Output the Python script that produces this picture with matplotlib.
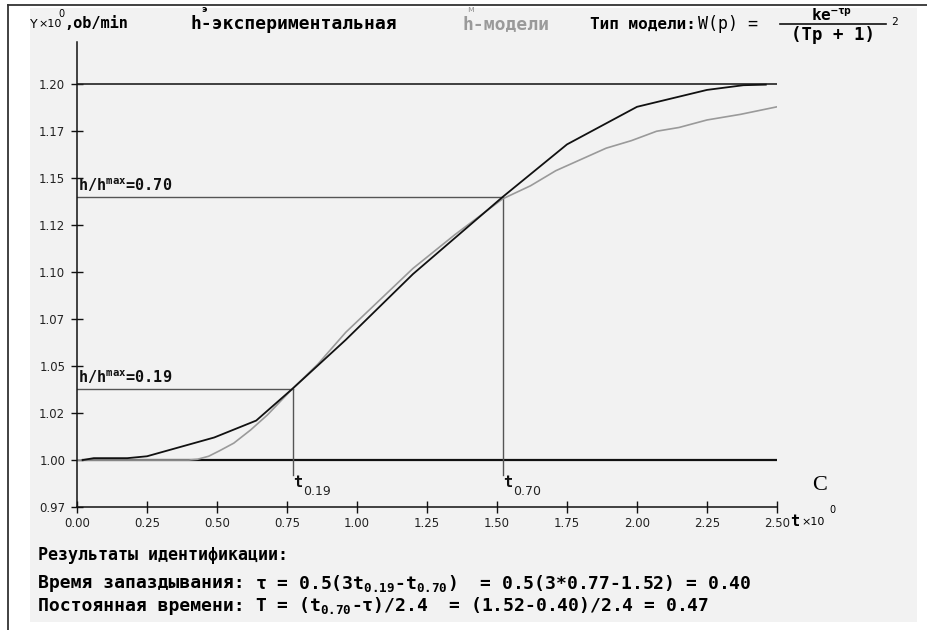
import matplotlib
matplotlib.use('Agg')
import matplotlib.pyplot as plt
from matplotlib.lines import Line2D
from matplotlib.patches import Rectangle

plt.rcParams['mathtext.default'] = 'regular'

# ---------------- data ----------------
t_exp = [0.02, 0.06, 0.18, 0.25, 0.49, 0.64, 0.77, 0.96, 1.20, 1.52, 1.75, 2.00, 2.25, 2.38, 2.46]
h_exp = [1.000, 1.001, 1.001, 1.002, 1.012, 1.021, 1.038, 1.064, 1.099, 1.140, 1.168, 1.188, 1.197, 1.1995, 1.1998]

t_mod = [0.00, 0.40, 0.43, 0.47, 0.51, 0.56, 0.62, 0.68, 0.77, 0.86, 0.96, 1.08, 1.20, 1.35,
         1.52, 1.62, 1.71, 1.89, 1.98, 2.07, 2.15, 2.25, 2.37, 2.50]
h_mod = [1.000, 1.000, 1.0004, 1.002, 1.005, 1.009, 1.016, 1.024, 1.038, 1.051, 1.068, 1.085, 1.102, 1.120,
         1.139, 1.146, 1.154, 1.166, 1.170, 1.175, 1.177, 1.181, 1.184, 1.188]

x_ticks = [0.00, 0.25, 0.50, 0.75, 1.00, 1.25, 1.50, 1.75, 2.00, 2.25, 2.50]
x_tick_labels = ['0.00', '0.25', '0.50', '0.75', '1.00', '1.25', '1.50', '1.75', '2.00', '2.25', '2.50']
y_ticks = [0.975, 1.000, 1.025, 1.050, 1.075, 1.100, 1.125, 1.150, 1.175, 1.200]
y_tick_labels = ['0.97', '1.00', '1.02', '1.05', '1.07', '1.10', '1.12', '1.15', '1.17', '1.20']

h_start = 1.00
h_end = 1.20
level_names = ['0.19', '0.70']
level_values = [1.038, 1.140]
level_times = [0.77, 1.52]

# ---------------- figure ----------------
W, H = 927, 630
fig = plt.figure(figsize=(9.27, 6.3), dpi=100)
fig.patch.set_facecolor('white')

def fx(px):
    return px / W

def fy(py):
    return 1 - py / H

MONO = 'DejaVu Sans Mono'

fig.add_artist(Rectangle((fx(30), fy(622)), fx(917) - fx(30), fy(8) - fy(622),
                         transform=fig.transFigure, facecolor='#f2f2f2', edgecolor='none', zorder=0))
fig.add_artist(Line2D([fx(8), fx(8)], [0, fy(5)], color='#333333', lw=1.3, transform=fig.transFigure))
fig.add_artist(Line2D([fx(8), 1], [fy(5), fy(5)], color='#333333', lw=1.3, transform=fig.transFigure))

ax = fig.add_axes([fx(77), fy(507), fx(777) - fx(77), fy(42) - fy(507)])
ax.set_facecolor('none')
ax.set_xlim(0, 2.5)
ax.set_ylim(0.975, 1.2225)
for s in ['top', 'right']:
    ax.spines[s].set_visible(False)
for s in ['left', 'bottom']:
    ax.spines[s].set_color('#111111')
    ax.spines[s].set_linewidth(1.1)

ax.set_xticks(x_ticks)
ax.set_xticklabels(x_tick_labels)
ax.set_yticks(y_ticks)
ax.set_yticklabels(y_tick_labels)
ax.tick_params(axis='both', direction='inout', length=9, width=1, color='#111111',
               labelsize=8.5, labelcolor='#222222')
ax.tick_params(axis='y', pad=4)
ax.tick_params(axis='x', pad=3)

# reference lines
ax.plot([0, 2.5], [h_end, h_end], color='#222222', lw=1.2)
ax.plot([0.02, 2.5], [h_start, h_start], color='#111111', lw=1.6)

# level guides
for name, lv, lt in zip(level_names, level_values, level_times):
    ax.plot([0, lt], [lv, lv], color='#555555', lw=1.0)
    ax.plot([lt, lt], [lv, 0.992], color='#555555', lw=1.0)
    ax.text(0.005, lv + 0.0015, 'h/h$^{max}$=' + name, fontsize=11, family=MONO,
            fontweight='bold', color='#111111', va='bottom', ha='left')
    ax.text(lt + 0.002, 0.9918, 't', fontsize=11, family=MONO, fontweight='bold',
            color='#111111', va='top', ha='left')
    ax.text(lt + 0.036, 0.9868, name, fontsize=9, family='DejaVu Sans',
            color='#222222', va='top', ha='left')

# curves
ax.plot(t_mod, h_mod, color='#9a9a9a', lw=1.2)
ax.plot(t_exp, h_exp, color='#111111', lw=1.3)

# x-axis unit label
fig.text(fx(790), fy(522), 't', fontsize=11, family=MONO, fontweight='bold',
         va='center', ha='left')
fig.text(fx(801), fy(522), '×10', fontsize=8, family='DejaVu Sans', va='center', ha='left')
fig.text(fx(829), fy(510), '0', fontsize=7, family='DejaVu Sans', va='center', ha='left')

fig.text(fx(820), fy(486), 'C', fontsize=16, family='Liberation Serif', va='center', ha='center')

# header
HY = 24
fig.text(fx(30), fy(HY), 'Y', fontsize=9, family='DejaVu Sans', va='center', ha='left')
fig.text(fx(38), fy(HY), '×10', fontsize=8, family='DejaVu Sans', va='center', ha='left')
fig.text(fx(58), fy(HY - 10), '0', fontsize=7, family='DejaVu Sans', va='center', ha='left')
fig.text(fx(64), fy(HY), ',ob/min', fontsize=11, family=MONO, fontweight='bold',
         va='center', ha='left')

fig.text(fx(201), fy(HY - 15), 'э', fontsize=6.5, family='DejaVu Sans', fontweight='bold',
         va='center', ha='left')
fig.text(fx(190), fy(HY), 'h-экспериментальная', fontsize=13, family=MONO,
         fontweight='bold', va='center', ha='left')
fig.text(fx(467), fy(HY - 15), 'м', fontsize=6.5, family='DejaVu Sans', color='#999999',
         va='center', ha='left')
fig.text(fx(462), fy(HY), 'h-модели', fontsize=13, family=MONO, fontweight='bold',
         color='#9a9a9a', va='center', ha='left')
fig.text(fx(590), fy(HY), 'Тип модели:', fontsize=11.5, family=MONO, fontweight='bold',
         va='center', ha='left')
fig.text(fx(698), fy(HY), 'W(p) =', fontsize=12, family=MONO, va='center', ha='left')
fig.text(fx(832), fy(HY - 3), 'ke$^{-τp}$', fontsize=11.5, family=MONO, fontweight='bold',
         va='baseline', ha='center')
fig.add_artist(Line2D([fx(780), fx(886)], [fy(HY), fy(HY)], color='#111111', lw=1.2,
                      transform=fig.transFigure))
fig.text(fx(833), fy(HY + 2), '(Tp + 1)', fontsize=12.5, family=MONO, fontweight='bold',
         va='top', ha='center')
fig.text(fx(891), fy(HY - 2), '2', fontsize=8, family=MONO, va='center', ha='left')

# results
RS = 13
char_w = 0.602 * RS * 100 / 72
fig.text(fx(38), fy(555), 'Результаты идентификации:', fontsize=12, family=MONO,
         fontweight='bold', va='center', ha='left')
fig.text(fx(38), fy(583), 'Время запаздывания:', fontsize=RS, family=MONO,
         fontweight='bold', va='center', ha='left')
fig.text(fx(38 + 20 * char_w), fy(583),
         'τ = 0.5(3t$_{0.19}$-t$_{0.70}$)  = 0.5(3*0.77-1.52) = 0.40',
         fontsize=RS, family=MONO, fontweight='bold', va='center', ha='left')
fig.text(fx(38), fy(606), 'Постоянная времени:', fontsize=RS, family=MONO,
         fontweight='bold', va='center', ha='left')
fig.text(fx(38 + 20 * char_w), fy(606),
         'T = (t$_{0.70}$-τ)/2.4  = (1.52-0.40)/2.4 = 0.47',
         fontsize=RS, family=MONO, fontweight='bold', va='center', ha='left')

fig.savefig('out.png', dpi=100, facecolor='white')
